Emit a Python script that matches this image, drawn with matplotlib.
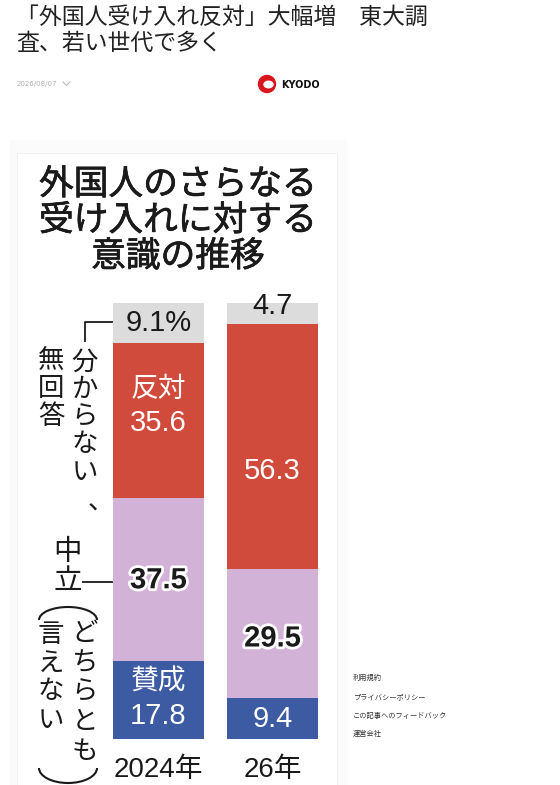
#!/usr/bin/env python3
"""Kyodo article card: attitude toward accepting more foreigners, 2024 vs 2026."""
import matplotlib
matplotlib.use("Agg")
import matplotlib.pyplot as plt
import matplotlib.patheffects as pe
from matplotlib.patches import Arc, Circle, Ellipse, Rectangle
import numpy as np

plt.rcParams["font.family"] = ["Noto Sans CJK JP", "DejaVu Sans"]

# data (percent), stacked bottom -> top
years = ["2024年", "26年"]
categories = ["賛成", "中立", "反対", "分からない、無回答"]
support = [17.8, 9.4]
neutral = [37.5, 29.5]
oppose = [35.6, 56.3]
unknown = [9.1, 4.7]
colors = ["#3d5ba3", "#d3b2d8", "#d04b3c", "#dcdcdc"]

headline = ["「外国人受け入れ反対」大幅増　東大調", "査、若い世代で多く"]
chart_title = ["外国人のさらなる", "受け入れに対する", "意識の推移"]
footer_links = ["利用規約", "プライバシーポリシー", "この記事へのフィードバック", "運営会社"]

W, H = 560, 785
fig = plt.figure(figsize=(W / 100, H / 100), dpi=100)
bg = fig.add_axes([0, 0, 1, 1])
bg.set_xlim(0, W)
bg.set_ylim(H, 0)
bg.axis("off")

# page header
for i, line in enumerate(headline):
    bg.text(16, 17 + i * 26, line, fontsize=16.5, color="#222222", va="center", ha="left")
bg.text(17, 84, "2026/08/07", fontsize=5, color="#b0b0b0", va="center", ha="left",
        family=["DejaVu Sans"])
bg.plot([63, 66.5, 70], [82, 85.5, 82], color="#b8b8b8", lw=0.8)
bg.add_patch(Circle((267, 84), 8.5, color="#d7161d"))
bg.add_patch(Ellipse((268.5, 84.5), 9, 6.5, color="white"))
bg.text(281, 84.5, "KYODO", fontsize=7, weight="bold", color="#111111", va="center",
        ha="left", family=["DejaVu Sans"])

# chart panel
bg.add_patch(Rectangle((10, 140), 336, 645, color="#fbfbfc", zorder=0))
bg.add_patch(Rectangle((17, 153), 320, 640, facecolor="white", edgecolor="#eef0f2",
                       lw=0.8, zorder=0.5))
semi_bold = [pe.withStroke(linewidth=0.5, foreground="#1a1a1a")]
for i, line in enumerate(chart_title):
    bg.text(178, 185 + i * 36, line, fontsize=25, weight="normal", color="#1a1a1a",
            ha="center", va="center", path_effects=semi_bold)

# footer links
for i, t in enumerate(footer_links):
    bg.text(353, 678 + i * 18.8, t, fontsize=5.2, color="#333333", ha="left", va="center")


def vtext(x, y0, chars, step=30, size=19):
    for k, ch in enumerate(chars):
        bg.text(x, y0 + k * step, ch, fontsize=size, color="#1a1a1a", ha="center",
                va="center")


# left-hand vertical labels
bg.plot([112, 85, 85], [322, 322, 341], color="#1a1a1a", lw=1.3)
vtext(85, 362, "分からない", step=27.5)
bg.text(101, 502, "、", fontsize=19, color="#1a1a1a", ha="center", va="center")
vtext(51, 360, "無回答", step=28)
vtext(68, 552, "中立", step=29, size=20.5)
bg.plot([83, 112], [582, 582], color="#1a1a1a", lw=1.3)
bg.add_patch(Arc((68, 620), 58, 26, theta1=180, theta2=360, color="#1a1a1a", lw=1.5))
vtext(85, 633, "どちらとも", step=29.5)
vtext(51, 634, "言えない", step=29)
bg.add_patch(Arc((68, 768), 58, 30, theta1=0, theta2=180, color="#1a1a1a", lw=1.5))

# stacked bars
ax = fig.add_axes([113 / W, (H - 739) / H, 205 / W, 436 / H])
ax.set_xlim(-0.399, 1.399)
ax.set_ylim(0, 100)
ax.axis("off")
x = np.arange(len(years))
series = [support, neutral, oppose, unknown]
bottom = np.zeros(len(years))
for vals, c in zip(series, colors):
    ax.bar(x, vals, bottom=bottom, width=0.798, color=c, lw=0)
    bottom += np.array(vals)

num_font = ["Liberation Sans", "Noto Sans CJK JP"]
outline = [pe.withStroke(linewidth=4, foreground="white")]

# 2024 labels
s0, n0, o0, u0 = support[0], neutral[0], oppose[0], unknown[0]
ax.text(0, s0 + n0 + o0 + u0 / 2, f"{u0}%", fontsize=21, ha="center", va="center",
        color="#1a1a1a", family=num_font)
ax.text(0, s0 + n0 + o0 / 2 + 7.2, "反対", fontsize=20, ha="center", va="center",
        color="white")
ax.text(0, s0 + n0 + o0 / 2 - 0.6, f"{o0}", fontsize=21, ha="center", va="center",
        color="white", family=num_font)
ax.text(0, s0 + n0 - 18.9, f"{n0}", fontsize=21, ha="center", va="center",
        color="#1a1a1a", weight="bold", family=num_font, path_effects=outline)
ax.text(0, s0 / 2 + 4.2, "賛成", fontsize=20, ha="center", va="center", color="white")
ax.text(0, s0 / 2 - 3.7, f"{s0}", fontsize=21, ha="center", va="center",
        color="white", family=num_font)

# 2026 labels
s1, n1, o1, u1 = support[1], neutral[1], oppose[1], unknown[1]
ax.text(1, s1 + n1 + o1 + u1 / 2 + 1.8, f"{u1}", fontsize=21, ha="center", va="center",
        color="#1a1a1a", family=num_font)
ax.text(1, s1 + n1 + o1 / 2 - 5.6, f"{o1}", fontsize=21, ha="center", va="center",
        color="white", family=num_font)
ax.text(1, s1 + n1 / 2 - 1.1, f"{n1}", fontsize=21, ha="center", va="center",
        color="#1a1a1a", weight="bold", family=num_font, path_effects=outline)
ax.text(1, s1 / 2 - 0.2, f"{s1}", fontsize=21, ha="center", va="center",
        color="white", family=num_font)

for xi, yr in zip(x, years):
    ax.text(xi, -7.2, yr, fontsize=20, ha="center", va="center", color="#1a1a1a",
            family=num_font, clip_on=False)

fig.savefig("out.png", dpi=100)
